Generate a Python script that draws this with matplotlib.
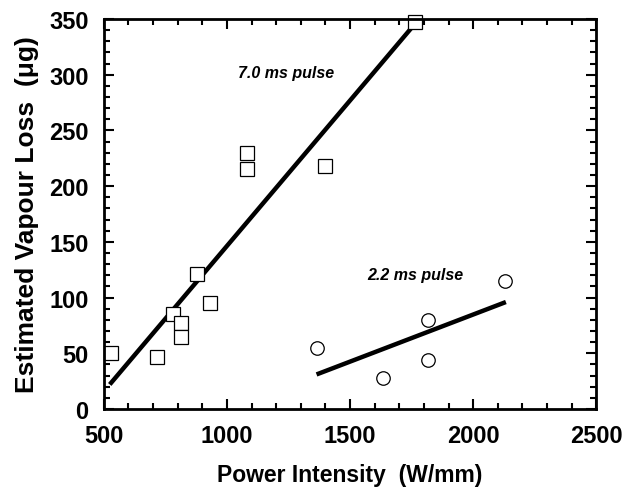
import matplotlib
matplotlib.use("Agg")
import matplotlib.pyplot as plt
from matplotlib.ticker import MultipleLocator

plt.rcParams['font.family'] = ['Liberation Sans', 'DejaVu Sans']

# 7.0 ms pulse data (squares)
sq_x = [531, 717, 779, 812, 812, 877, 932, 1080, 1080, 1400, 1764]
sq_y = [50, 47, 85, 77, 65, 121, 95, 230, 215, 218, 347]
# 2.2 ms pulse data (circles)
ci_x = [1364, 1635, 1818, 1818, 2130]
ci_y = [55, 28, 80, 44, 115]
# fit lines
fit7_x = [524, 1757]
fit7_y = [22, 344]
fit2_x = [1364, 2133]
fit2_y = [31, 96]

fig = plt.figure(figsize=(6.37, 4.89), dpi=100)
ax = fig.add_axes([0.163, 0.1616, 0.773, 0.7974])

ax.plot(fit7_x, fit7_y, color='black', lw=3.2, solid_capstyle='butt')
ax.plot(fit2_x, fit2_y, color='black', lw=3.2, solid_capstyle='butt')
ax.plot(sq_x, sq_y, linestyle='none', marker='s', markersize=10.2,
        markerfacecolor='white', markeredgecolor='black', markeredgewidth=0.9, clip_on=False)
ax.plot(ci_x, ci_y, linestyle='none', marker='o', markersize=9.7,
        markerfacecolor='white', markeredgecolor='black', markeredgewidth=0.9, clip_on=False)

ax.text(1240, 302, '7.0 ms pulse', ha='center', va='center', fontsize=11.5,
        fontweight='bold', fontstyle='italic')
ax.text(1765, 121, '2.2 ms pulse', ha='center', va='center', fontsize=11.5,
        fontweight='bold', fontstyle='italic')

ax.set_xlim(500, 2500)
ax.set_ylim(0, 350)
ax.xaxis.set_major_locator(MultipleLocator(500))
ax.xaxis.set_minor_locator(MultipleLocator(100))
ax.yaxis.set_major_locator(MultipleLocator(50))
ax.yaxis.set_minor_locator(MultipleLocator(10))
ax.tick_params(which='both', direction='in', top=True, right=True, width=1.5)
ax.tick_params(which='major', length=7, labelsize=17, pad=11)
ax.tick_params(which='minor', length=4)
for lab in ax.get_xticklabels() + ax.get_yticklabels():
    lab.set_fontweight('bold')
for s in ax.spines.values():
    s.set_linewidth(2)

ax.set_xlabel('Power Intensity  (W/mm)', fontsize=16.5, fontweight='bold', labelpad=11)
ax.set_ylabel('Estimated Vapour Loss  (\u03bcg)', fontsize=19, fontweight='bold', labelpad=7)

fig.savefig('out.png', dpi=100)
